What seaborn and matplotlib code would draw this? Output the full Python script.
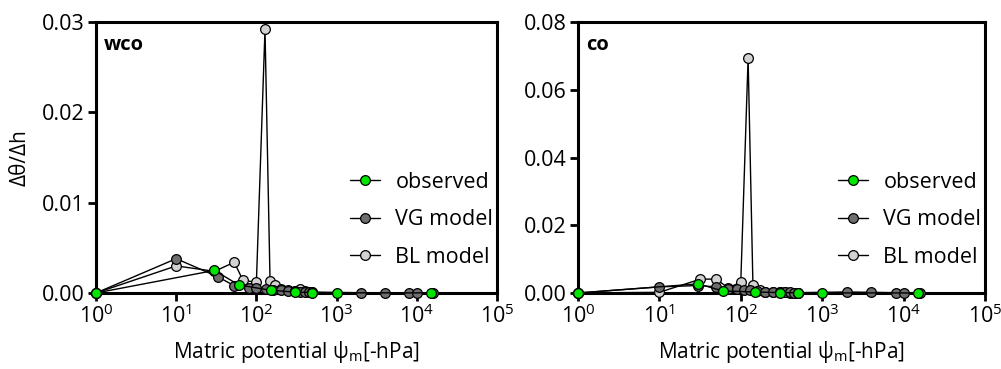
import numpy as np
import pandas as pd
import matplotlib
matplotlib.use("Agg")
import matplotlib.pyplot as plt
import seaborn as sns
from matplotlib.ticker import LogLocator, FixedLocator, FormatStrFormatter, NullLocator

# ---------------- data ----------------
# panel "wco"
wco_obs_x = [1, 30, 60, 150, 300, 500, 1000, 15000]
wco_obs_y = [0, 0.0025, 0.0009, 0.0003, 0.0001, 0.00005, 0.00002, 0.00001]
wco_vg_x = [1, 10, 33, 53, 80, 100, 130, 160, 200, 250, 300, 350, 400, 450, 500, 2000, 4000, 8000, 10000, 16000]
wco_vg_y = [0, 0.0038, 0.0018, 0.0008, 0.0006, 0.0005, 0.0004, 0.0003, 0.0003, 0.0002, 0.0002,
            0.00015, 0.0001, 0.0001, 0.0001, 0.00003, 0.00002, 0.00001, 0.00001, 0.00001]
wco_bl_x = [1, 10, 30, 53, 68, 100, 128, 148, 170, 200, 250, 300, 350, 400, 450, 500]
wco_bl_y = [0, 0.0030, 0.0024, 0.0034, 0.0014, 0.0012, 0.0292, 0.0013, 0.0009, 0.0004, 0.0003,
            0.0002, 0.0004, 0.0002, 0.0001, 0.0001]

# panel "co"
co_obs_x = [1, 30, 60, 150, 300, 500, 1000, 15000]
co_obs_y = [0, 0.0027, 0.0006, 0.0003, 0.0001, 0.00005, 0.00002, 0.00001]
co_vg_x = [1, 10, 30, 50, 70, 90, 110, 130, 160, 200, 250, 300, 350, 400, 450, 500, 2000, 4000, 8000, 10000, 16000]
co_vg_y = [0, 0.0018, 0.0022, 0.0018, 0.0012, 0.0012, 0.0010, 0.0008, 0.0005, 0.0004, 0.0003,
           0.0002, 0.0002, 0.0002, 0.0001, 0.0001, 0.0003, 0.0002, 0.0001, 0.0001, 0.0001]
co_bl_x = [1, 10, 32, 50, 70, 100, 123, 141, 170, 200, 250, 300, 350, 400, 450, 500]
co_bl_y = [0, 0.0002, 0.0041, 0.0041, 0.0015, 0.0032, 0.0694, 0.0024, 0.0008, 0.0004, 0.0003,
           0.0002, 0.0002, 0.0001, 0.0001, 0.0001]

panel_labels = ["wco", "co"]
ylims = [0.03, 0.08]
yticks = [[0.00, 0.01, 0.02, 0.03], [0.00, 0.02, 0.04, 0.06, 0.08]]
series_names = ["observed", "VG model", "BL model"]
colors = {"observed": "#00e600", "VG model": "#6e6e6e", "BL model": "#d2d2d2"}

panels = [
    {"observed": (wco_obs_x, wco_obs_y), "VG model": (wco_vg_x, wco_vg_y), "BL model": (wco_bl_x, wco_bl_y)},
    {"observed": (co_obs_x, co_obs_y), "VG model": (co_vg_x, co_vg_y), "BL model": (co_bl_x, co_bl_y)},
]

# ---------------- style ----------------
sns.set_theme(style="ticks")
plt.rcParams["font.family"] = ["Open Sans", "DejaVu Sans"]
plt.rcParams["mathtext.fontset"] = "custom"
plt.rcParams["mathtext.rm"] = "Open Sans"
plt.rcParams["mathtext.it"] = "Open Sans"
plt.rcParams["text.color"] = "black"
plt.rcParams["axes.labelcolor"] = "black"
plt.rcParams["xtick.color"] = "black"
plt.rcParams["ytick.color"] = "black"
plt.rcParams["axes.linewidth"] = 2.2

fig = plt.figure(figsize=(10.01, 3.69), dpi=100)
positions = [[0.0959, 0.206, 0.4006, 0.734], [0.5774, 0.206, 0.4066, 0.734]]

for i, pdata in enumerate(panels):
    ax = fig.add_axes(positions[i])
    ax.set_xscale("log")
    for name in ["BL model", "VG model", "observed"]:
        xs, ys = pdata[name]
        df = pd.DataFrame({"x": xs, "y": ys})
        sns.lineplot(data=df, x="x", y="y", ax=ax, estimator=None, sort=False,
                     color="black", linewidth=1.0, marker="o", markersize=7,
                     markerfacecolor=colors[name], markeredgecolor="black",
                     markeredgewidth=0.9, clip_on=False, label=name,
                     zorder={"BL model": 3, "VG model": 4, "observed": 5}[name])
    ax.set_xlim(1, 1e5)
    ax.set_ylim(0, ylims[i])
    ax.xaxis.set_major_locator(LogLocator(base=10, numticks=10))
    ax.xaxis.set_minor_locator(NullLocator())
    ax.yaxis.set_major_locator(FixedLocator(yticks[i]))
    ax.yaxis.set_major_formatter(FormatStrFormatter("%.2f"))
    ax.tick_params(axis="both", which="major", direction="out", length=6, width=2,
                   labelsize=15.5, colors="black", pad=2)
    for s in ax.spines.values():
        s.set_visible(True)
        s.set_linewidth(2.2)
        s.set_color("black")
    ax.set_xlabel("Matric potential ψ$_{\\mathrm{m}}$[-hPa]", fontsize=15, labelpad=8)
    if i == 0:
        ax.set_ylabel("Δθ/Δh", fontsize=15, labelpad=8)
    else:
        ax.set_ylabel("")
    ax.text(0.02, 0.915, panel_labels[i], transform=ax.transAxes, fontsize=14.5,
            fontweight="bold", va="center", ha="left")
    handles, labels = ax.get_legend_handles_labels()
    order = [labels.index(n) for n in series_names]
    leg = ax.legend([handles[k] for k in order], [labels[k] for k in order],
                    loc="center right", bbox_to_anchor=(1.012, 0.27), frameon=False,
                    fontsize=15.5, handlelength=1.4, handletextpad=0.7, labelspacing=0.76,
                    borderaxespad=0.0)
    for t in leg.get_texts():
        t.set_color("black")
    ax.set_facecolor("white")

fig.savefig("out.png", dpi=100, facecolor="white")
